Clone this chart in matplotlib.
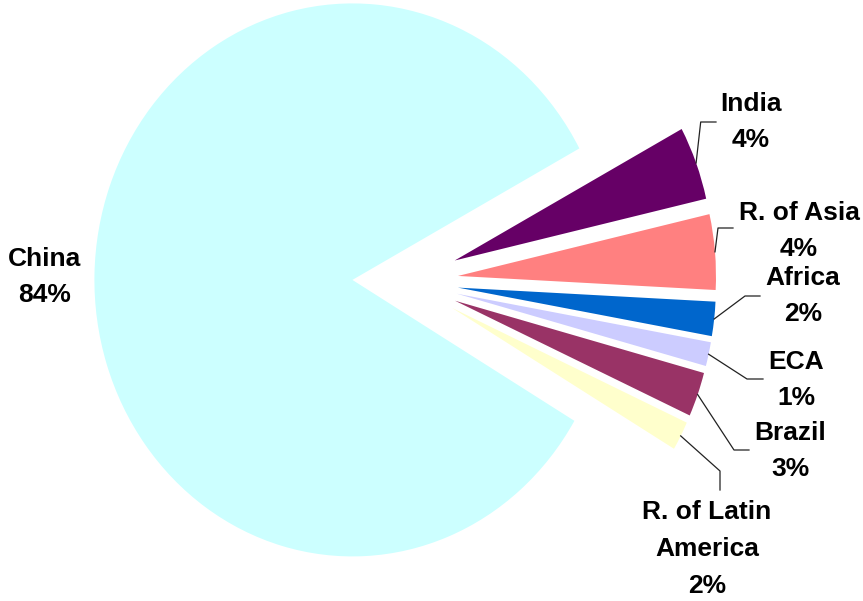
import numpy as np
import matplotlib
matplotlib.use("Agg")
import matplotlib.pyplot as plt

# data
names = ['India', 'R. of Asia', 'Africa', 'ECA', 'Brazil', 'R. of Latin\nAmerica', 'China']
shares = [4.3, 4.4, 2.0, 1.4, 2.6, 1.7, 83.6]
colors = ['#660066', '#FF8080', '#0066CC', '#CCCCFF', '#993366', '#FFFFCC', '#CCFFFF']
explode = [0.21, 0.21, 0.21, 0.21, 0.21, 0.21, 0.2]

# label block centres and leader elbows, in image pixels (x right, y down)
label_pos = [(751, 122), (799, 231), (803, 296), (796, 380), (790, 451), (707, 549), (45, 277)]
leaders = [
    [(700.7, 122), (716, 122)],
    [(718, 228), (733, 228)],
    [(745, 296), (760, 296)],
    [(747, 379), (763, 379)],
    [(734, 450), (749, 450)],
    [(720, 471), (720, 490)],
    None,
]

W, H = 863, 601
cx, cy, rx, ry = 404, 281, 258, 276.5

fig = plt.figure(figsize=(W / 100, H / 100), dpi=100)
ax = fig.add_axes([0, 0, 1, 1])
wedges, _ = ax.pie(shares, colors=colors, explode=explode, startangle=28.4,
                   counterclock=False, wedgeprops=dict(linewidth=0))
ax.set_aspect('auto')
ax.set_xlim(-cx / rx, (W - cx) / rx)
ax.set_ylim(-(H - cy) / ry, cy / ry)
ax.axis('off')


def to_data(p):
    return ((p[0] - cx) / rx, (cy - p[1]) / ry)


for i, w in enumerate(wedges):
    txt = f"{names[i]}\n{shares[i]:.0f}%"
    x, y = to_data(label_pos[i])
    ax.text(x, y, txt, ha='center', va='center', multialignment='center',
            fontsize=19, fontweight='bold', family=['Liberation Sans', 'DejaVu Sans'],
            linespacing=1.68)
    if leaders[i] is None:
        continue
    mid = np.deg2rad((w.theta1 + w.theta2) / 2)
    ex = explode[i]
    start = ((1 + ex) * np.cos(mid), (1 + ex) * np.sin(mid))
    pts = [start] + [to_data(p) for p in leaders[i]]
    ax.plot([p[0] for p in pts], [p[1] for p in pts], color='#222222', lw=0.9)

plt.savefig('out.png', dpi=100)
plt.close()
